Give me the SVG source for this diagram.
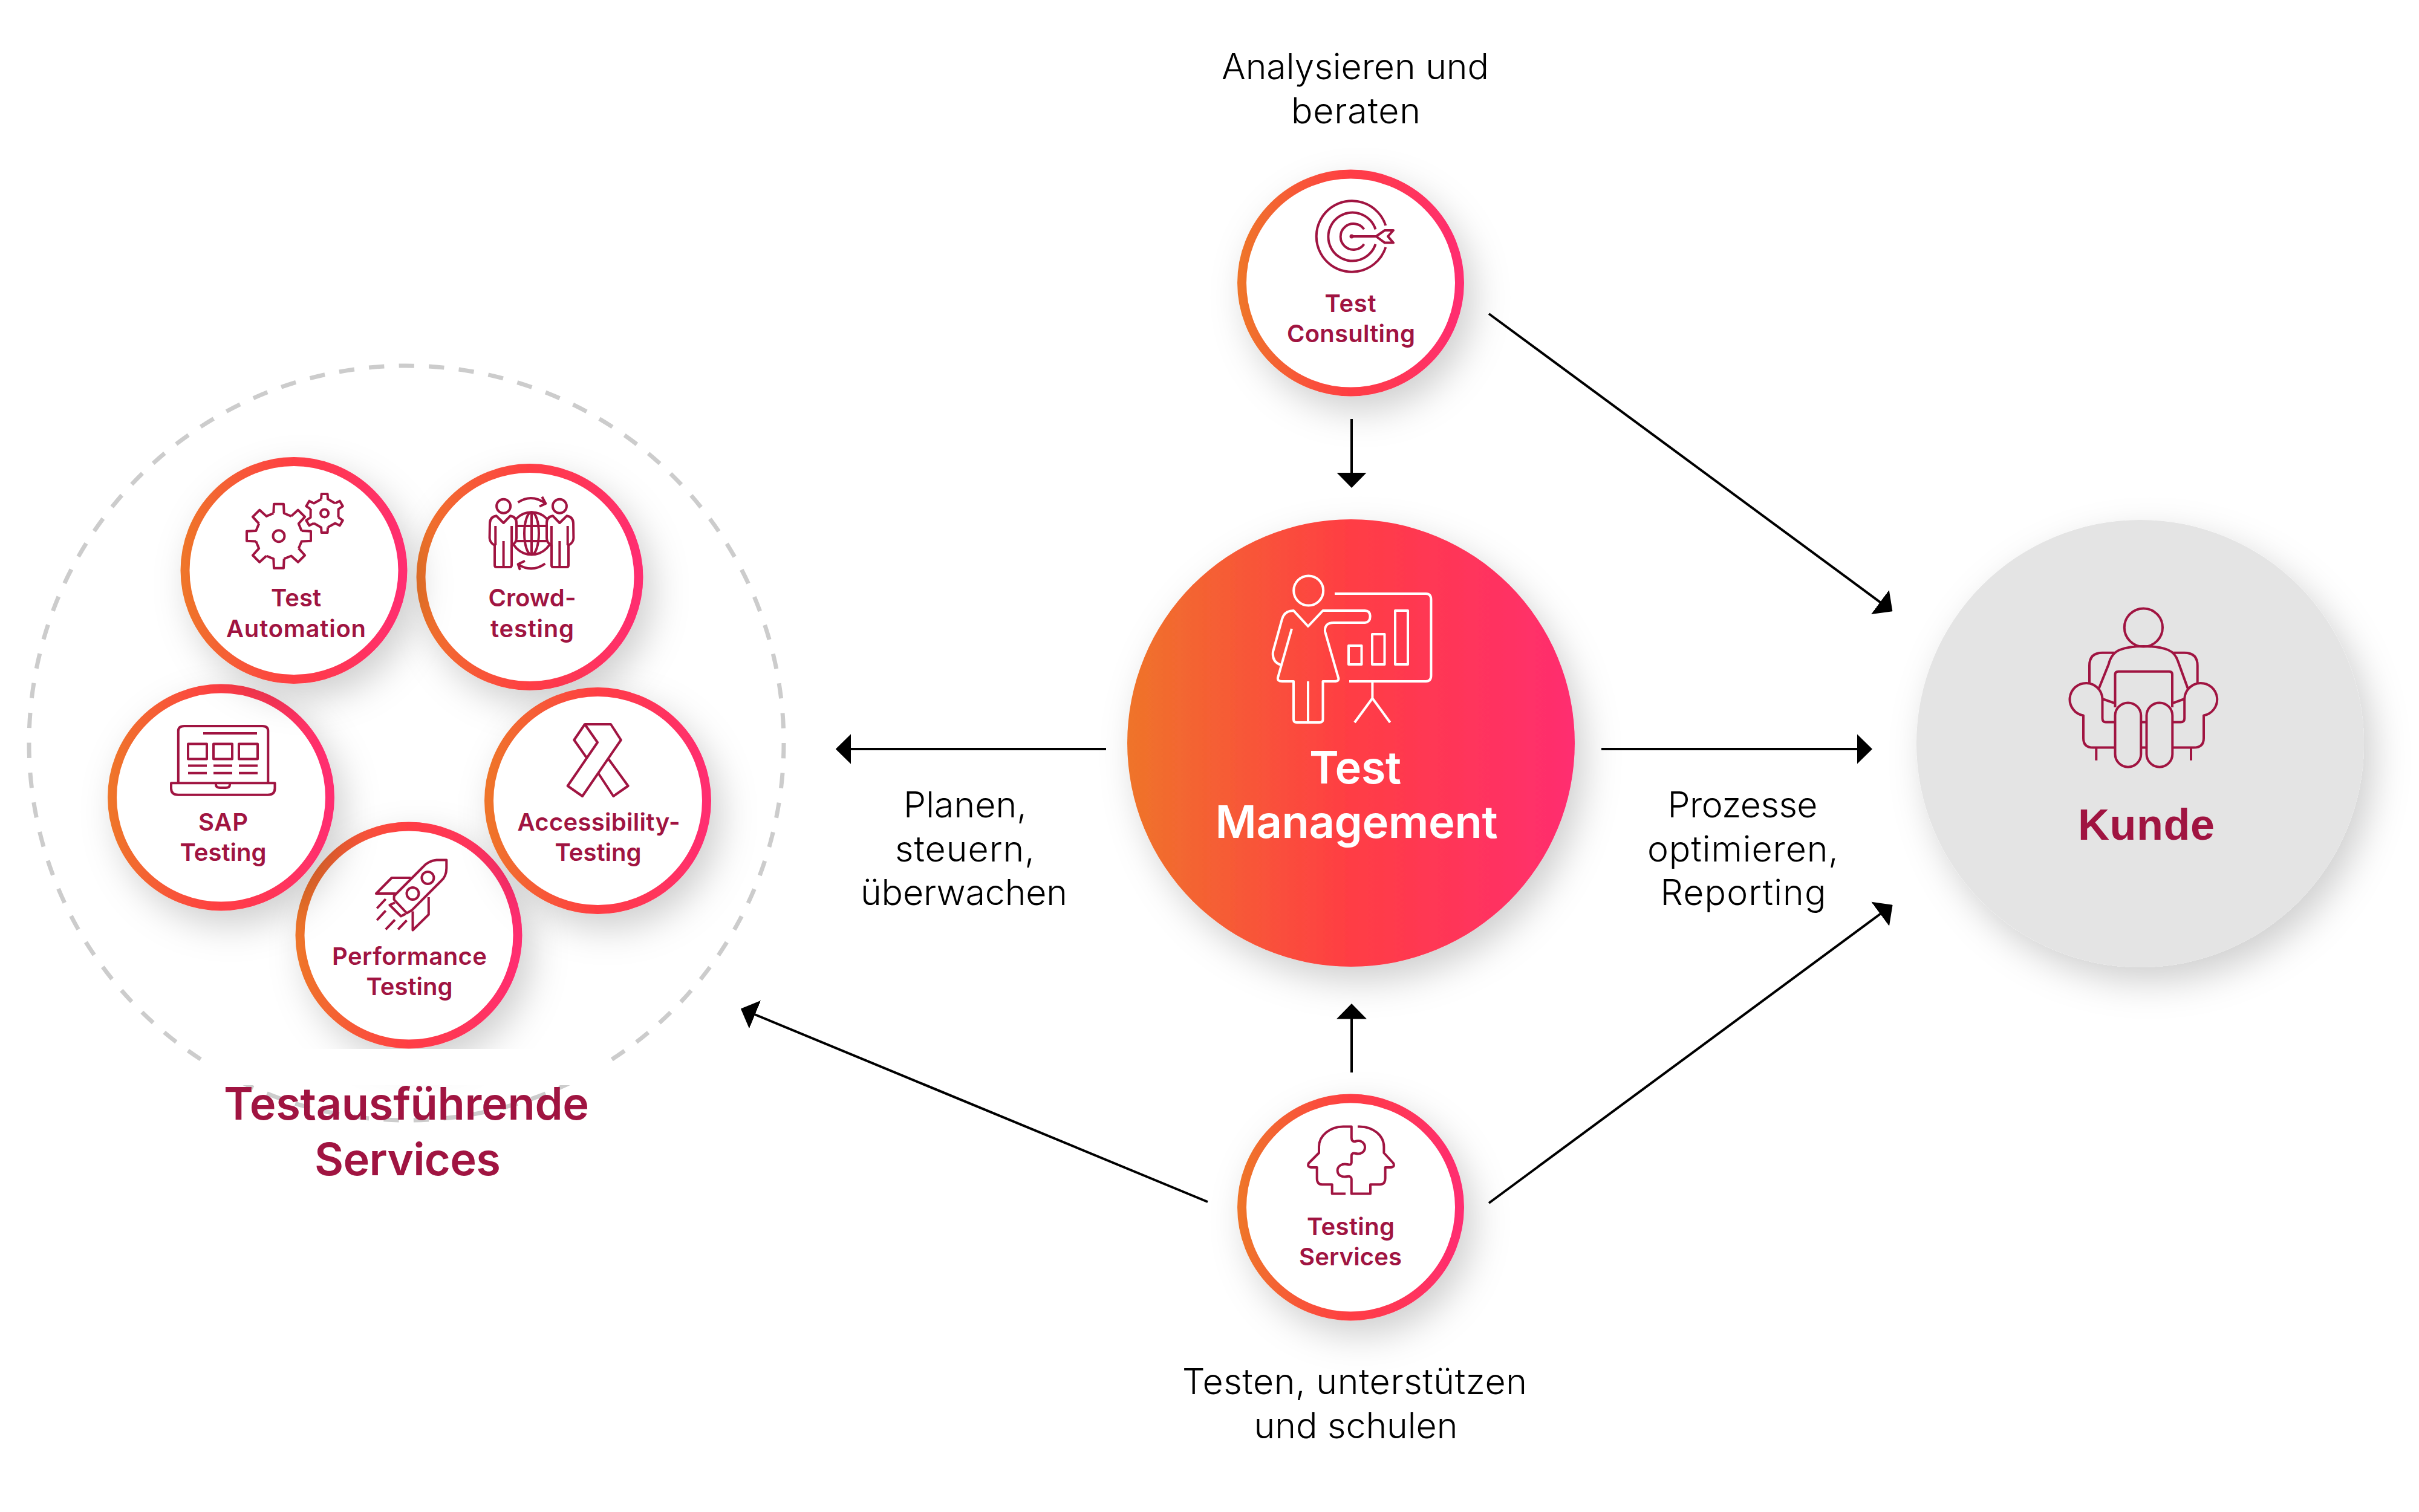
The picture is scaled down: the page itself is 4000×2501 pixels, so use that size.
<svg xmlns="http://www.w3.org/2000/svg" xmlns:xlink="http://www.w3.org/1999/xlink" width="4000" height="2501" viewBox="0 0 4000 2501">
<style>
text{text-anchor:middle;font-family:"Inter","Liberation Sans",sans-serif}
.light{font-size:59px;font-weight:280;fill:#000}
.small{font-size:40px;font-weight:600;fill:#a01441}
.big{font-size:74px;font-weight:600;fill:#a01441}
.white{font-size:74px;font-weight:600;fill:#fff}
.kunde{font-family:"Liberation Sans",Arial,sans-serif;font-size:72px;font-weight:700;fill:#a01441}
.ring{fill:#fff;stroke:url(#grad);stroke-width:15;filter:url(#sh)}
.ic{fill:none;stroke:#a01441;stroke-width:4;stroke-linecap:butt;stroke-linejoin:round}
.icw{fill:none;stroke:#fff;stroke-width:4;stroke-linejoin:round}
.conn line{stroke:#000;stroke-width:4}
</style>
<defs>
<linearGradient id="grad" x1="0" y1="0" x2="1" y2="0"><stop offset="0" stop-color="#ef742a"/><stop offset=".5" stop-color="#ff3d44"/><stop offset="1" stop-color="#ff2d70"/></linearGradient>
<filter id="sh" x="-35%" y="-35%" width="180%" height="180%"><feDropShadow dx="16" dy="24" stdDeviation="30" flood-color="#000" flood-opacity=".19"/></filter>
<marker id="head" markerUnits="userSpaceOnUse" viewBox="0 0 25.5 50" refX="0.5" refY="25" markerWidth="25.5" markerHeight="50" orient="auto"><path d="M0 0L25.5 25L0 50Z" fill="#000"/></marker>
<path id="t8" d="M-8.7 -37.7L-8 -53H8L8.7 -37.7L20.5 -32.8"/>
<g id="gear8"><use href="#t8"/><use href="#t8" transform="rotate(45)"/><use href="#t8" transform="rotate(90)"/><use href="#t8" transform="rotate(135)"/><use href="#t8" transform="rotate(180)"/><use href="#t8" transform="rotate(225)"/><use href="#t8" transform="rotate(270)"/><use href="#t8" transform="rotate(315)"/></g>
<path id="t6" d="M-5.5 -23.4L-5 -32H5L5.5 -23.4L17.5 -16.4"/>
<g id="gear6"><use href="#t6"/><use href="#t6" transform="rotate(60)"/><use href="#t6" transform="rotate(120)"/><use href="#t6" transform="rotate(180)"/><use href="#t6" transform="rotate(240)"/><use href="#t6" transform="rotate(300)"/></g>
<g id="person"><circle cx="832.6" cy="837.3" r="11.5"/><path fill="#fff" d="M832.6 865L820.8 853.3Q810.6 855 810 865L809.6 890Q810 898 818 902V935Q818 938 821 938H843Q846 938 846 935V902Q854 898 854 890V865Q854 855 843.8 853.3Z"/><path d="M819.3 870V902M846.1 870V902M832.6 895V938"/></g>
</defs>
<rect width="4000" height="2501" fill="#fff"/>

<circle id="cluster" cx="672" cy="1229" r="624" fill="none" stroke="#ccc" stroke-width="7" pathLength="3950" stroke-dasharray="25.5 24.5"/>

<g id="performance-testing"><circle class="ring" cx="676" cy="1547" r="180"/>
<g class="ic"><path d="M738.3 1422.6H722Q708 1424 699 1434.5L651.6 1482V1488L672.6 1510.4L681 1505.6L728.5 1458Q738.3 1450 738.3 1436Z"/><circle cx="707.4" cy="1452" r="10"/><circle cx="682.5" cy="1478" r="10"/><path d="M679 1452H647.7L622 1478H654.2M708.8 1484V1512.8L682.5 1538.5V1507.6M653 1493L644.4 1497L663 1515.5L670.7 1511.6M637.8 1487L623.3 1502.5M637.8 1506.4L623.3 1522M653 1521.5L637.8 1537.3M672.6 1522.3L658.2 1537.3"/></g>
<text class="small" x="677" y="1596" textLength="256">Performance</text><text class="small" x="677" y="1646" textLength="143">Testing</text></g>

<g id="crowd-testing"><circle class="ring" cx="876" cy="954.5" r="180"/>
<g class="ic"><circle cx="879" cy="882.3" r="35"/><ellipse cx="879" cy="882.3" rx="12" ry="35"/><path d="M879 847V917M852 870H906M852 895H906"/><use href="#person"/><use href="#person" transform="matrix(-1 0 0 1 1758 0)"/><path d="M856.6 831Q879 816 902.4 833M896.3 821.7L902.4 833L892 837.7M901.4 932.3Q879 948 856.6 933.3M868 927.7L856.6 933.3L860 942.7"/></g>
<text class="small" x="880" y="1003" textLength="145">Crowd-</text><text class="small" x="880" y="1054" textLength="138">testing</text></g>

<g id="accessibility-testing"><circle class="ring" cx="988.5" cy="1324.5" r="180"/>
<g class="ic"><path d="M967 1198H1010L1026.8 1224L963 1317L938.7 1300L988 1228L967 1198L949.3 1224L970 1253.4M990 1280L1014.3 1317L1038.6 1300L1006.4 1255.7"/></g>
<text class="small" x="990" y="1374" textLength="269">Accessibility-</text><text class="small" x="989" y="1424" textLength="143">Testing</text></g>

<g id="sap-testing"><circle class="ring" cx="365.5" cy="1319" r="180"/>
<g class="ic"><path d="M294.8 1294V1209Q294.8 1201 304.7 1201H434Q443.3 1201 443.3 1209V1294M283 1295.3H454.5V1304Q454.5 1314.7 442.7 1314.7H294.8Q283 1314.7 283 1304ZM357 1295.3V1298Q357 1303 364 1303H373.7Q380 1303 380 1298V1295.3M336 1213H425"/><rect x="311" y="1230.4" width="31" height="25"/><rect x="353" y="1230.4" width="31" height="25"/><rect x="395" y="1230.4" width="31" height="25"/><path d="M311 1266.4H342M353 1266.4H384M395 1266.4H426M311 1278.7H342M353 1278.7H384M395 1278.7H426"/></g>
<text class="small" x="369" y="1374" textLength="82">SAP</text><text class="small" x="369" y="1424" textLength="143">Testing</text></g>

<g id="test-automation"><circle class="ring" cx="486" cy="943.5" r="180"/>
<g class="ic"><use href="#gear8" transform="translate(461 886.7)"/><circle cx="461" cy="886.7" r="9.5"/><use href="#gear6" transform="translate(536.6 849)"/><circle cx="536.6" cy="849" r="6.5"/></g>
<text class="small" x="489.5" y="1003" textLength="83">Test</text><text class="small" x="489.5" y="1054" textLength="231">Automation</text></g>

<rect id="cluster-mask" x="336" y="1735" width="672" height="60" fill="#fff"/>
<g id="testausfuehrende"><text class="big" x="672" y="1852" textLength="604">Testausführende</text><text class="big" x="674" y="1944" textLength="308">Services</text></g>

<g id="test-management"><circle cx="2234" cy="1229" r="370" fill="url(#grad)" filter="url(#sh)"/>
<g class="icw"><circle cx="2163.7" cy="977" r="24.5"/><path d="M2207 982H2358Q2366.4 982 2366.4 992V1117Q2366.4 1127 2358 1127H2231M2269.4 1127V1155M2240 1195L2269.4 1155L2298.6 1195"/><rect x="2230" y="1068" width="21.5" height="31"/><rect x="2269" y="1049" width="20.5" height="50"/><rect x="2307" y="1010" width="21" height="89"/><path d="M2136 1040L2113 1121Q2112 1127 2120 1127H2139V1190Q2139 1195 2144 1195H2182Q2187.5 1195 2187.5 1190V1127H2206.5Q2215 1127 2213 1121L2191 1044.5Q2190 1030 2205.4 1030H2257Q2265.6 1029 2265.6 1020Q2265.6 1010 2257 1010H2187.5L2163 1036L2139 1010Q2124 1010 2120 1024L2105 1078Q2103 1094 2117 1099.6M2163 1127V1195"/></g>
<text class="white" x="2241" y="1296" textLength="152">Test</text><text class="white" x="2243" y="1386" textLength="467">Management</text></g>

<g id="test-consulting"><circle class="ring" cx="2233.5" cy="468" r="180"/>
<g class="ic"><path d="M2291.3 373A58.7 58.7 0 1 0 2291.3 409M2274.5 379.4A40 40 0 1 0 2274.5 403.8M2255.6 379.2A21.4 21.4 0 1 0 2255.6 403.8M2235 391H2276M2275.5 391L2289.8 381H2304L2295 391L2304 401.6H2289.8Z"/></g><circle cx="2235" cy="391" r="3.5" fill="#a01441"/>
<text class="small" x="2233" y="516" textLength="85">Test</text><text class="small" x="2234" y="566" textLength="212">Consulting</text></g>

<g id="testing-services"><circle class="ring" cx="2233.5" cy="1997" r="180"/>
<g class="ic"><path d="M2225 1974.6H2202.7V1959.3H2186Q2177.7 1959 2177.7 1949V1931H2168Q2161 1930 2164 1924L2181 1907V1897C2181 1878 2200 1863.4 2221 1863.4H2234.8V1882Q2235 1889 2241 1888C2250 1885 2257 1890 2257 1898C2257 1906 2249 1910 2242 1908Q2235 1906 2234.8 1912V1922Q2235 1928 2228 1926C2219 1924 2211.6 1929 2211.6 1936C2211.6 1944 2219 1948 2228 1946Q2234.8 1945 2234.8 1951V1974.6H2266V1959.3H2282Q2290.6 1959 2290.6 1949V1931H2300Q2307 1930 2304 1924L2288.4 1907V1897C2288.4 1878 2270 1863.4 2248 1863.4H2245"/></g>
<text class="small" x="2233.5" y="2043" textLength="145">Testing</text><text class="small" x="2233" y="2093" textLength="170">Services</text></g>

<g id="kunde"><circle cx="3539" cy="1230" r="370" fill="#e4e4e4" filter="url(#sh)"/>
<g class="ic"><circle cx="3544.4" cy="1038" r="31.6"/><path d="M3470.4 1139.5L3486.7 1099Q3491 1081 3505 1075Q3520 1069 3544.4 1069Q3570 1069 3585 1075Q3597 1080 3601.5 1094L3618 1139.5M3455 1132V1101Q3455 1079.7 3476.5 1079.7H3497M3593 1079.7H3612Q3633.7 1079.7 3633.7 1101V1132"/><path d="M3476.5 1156A27 27 0 1 0 3445 1183.5V1221Q3445 1236.6 3461 1236.6H3498M3476.5 1156V1188Q3476.5 1194.5 3482 1194.5H3498M3612.2 1156A27 27 0 1 1 3644 1183.5V1221Q3644 1236.6 3627.5 1236.6H3592M3612.2 1156V1188Q3612.2 1194.5 3606 1194.5H3592M3466.3 1236.6V1257.7M3623 1236.6V1257.7M3476.5 1156L3497.5 1163.4M3612.2 1156L3592 1163.4M3540.3 1194.5H3549.5M3540.3 1236.6H3549.5"/><path d="M3497.5 1170V1116Q3497.5 1110.8 3503 1110.8H3587Q3592 1110.8 3592 1116V1170"/><rect x="3497.5" y="1162.4" width="42.8" height="106.3" rx="21.4"/><rect x="3549.5" y="1162.4" width="42.8" height="106.3" rx="21.4"/></g>
<text class="kunde" x="3549" y="1389" textLength="226">Kunde</text></g>

<g id="labels">
<text class="light" x="2241" y="131" textLength="442">Analysieren und</text><text class="light" x="2242" y="204" textLength="214">beraten</text>
<text class="light" x="1596" y="1352" textLength="204">Planen,</text><text class="light" x="1595.5" y="1425" textLength="231">steuern,</text><text class="light" x="1594" y="1497" textLength="342">überwachen</text>
<text class="light" x="2881.5" y="1352" textLength="248">Prozesse</text><text class="light" x="2882" y="1425" textLength="316">optimieren,</text><text class="light" x="2882.5" y="1497" textLength="274">Reporting</text>
<text class="light" x="2240" y="2306" textLength="570">Testen, unterstützen</text><text class="light" x="2242" y="2379" textLength="337">und schulen</text>
</g>

<g id="connectors" class="conn">
<line x1="2235" y1="693" x2="2235" y2="782" marker-end="url(#head)"/>
<line x1="2235" y1="1774" x2="2235" y2="1685" marker-end="url(#head)"/>
<line x1="1829" y1="1239" x2="1406.7" y2="1239" marker-end="url(#head)"/>
<line x1="2648" y1="1239" x2="3071" y2="1239" marker-end="url(#head)"/>
<line x1="2462" y1="519" x2="3109.3" y2="996.3" marker-end="url(#head)"/>
<line x1="2462" y1="1990" x2="3109.5" y2="1511.5" marker-end="url(#head)"/>
<line x1="1997" y1="1988" x2="1248" y2="1678" marker-end="url(#head)"/>
</g>
</svg>
